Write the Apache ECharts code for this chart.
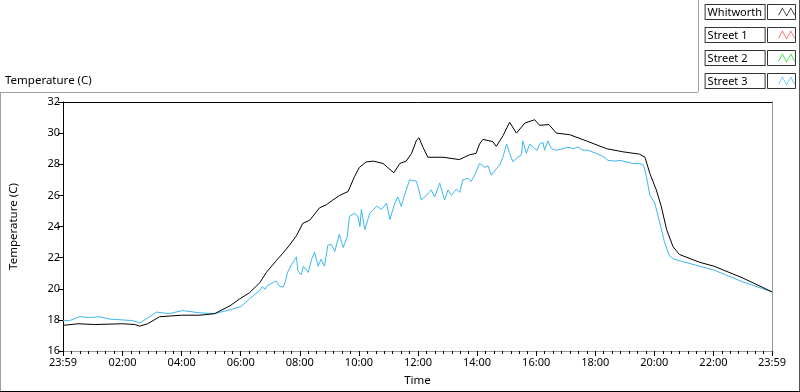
<!DOCTYPE html>
<html><head><meta charset="utf-8">
<script src="https://cdn.jsdelivr.net/npm/echarts@6/dist/echarts.min.js"></script>
<style>html,body{margin:0;padding:0;background:#fff}#c{width:800px;height:392px}</style>
</head><body><div id="c"></div>
<script>
// ---- data (times in minutes from midnight; -1 = 23:59 of previous day) ----
const seriesNames = ['Whitworth', 'Street 1', 'Street 2', 'Street 3'];
const seriesColors = ['#000000', '#ff3b3b', '#10d010', '#3cb8f0'];
const xTickMinutes = [-1, 120, 240, 360, 480, 600, 720, 840, 960, 1080, 1200, 1320, 1439];
const xTickLabels = ['23:59', '02:00', '04:00', '06:00', '08:00', '10:00', '12:00', '14:00', '16:00', '18:00', '20:00', '22:00', '23:59'];

const whitworthTime = [-1, 30, 63, 120, 145, 155, 171, 195, 240, 277, 307, 338, 358, 378, 399, 412, 432, 446, 459, 473, 486, 500, 520, 534, 547, 561, 578, 591, 601, 615, 629, 649, 671, 683, 696, 707, 717, 722, 730, 740, 771, 804, 824, 838, 845, 852, 872, 879, 893, 906, 920, 937, 957, 967, 986, 1001, 1028, 1062, 1103, 1136, 1170, 1181, 1191, 1204, 1214, 1225, 1238, 1251, 1292, 1321, 1379, 1439];
const whitworthTemp = [17.65, 17.75, 17.7, 17.75, 17.7, 17.6, 17.75, 18.2, 18.3, 18.3, 18.4, 18.9, 19.35, 19.75, 20.4, 21.05, 21.8, 22.3, 22.8, 23.4, 24.2, 24.4, 25.2, 25.4, 25.7, 26.0, 26.25, 27.2, 27.8, 28.15, 28.2, 28.05, 27.45, 28.05, 28.2, 28.7, 29.55, 29.7, 29.1, 28.45, 28.45, 28.3, 28.6, 28.7, 29.3, 29.6, 29.45, 29.15, 29.85, 30.7, 30.0, 30.65, 30.86, 30.5, 30.55, 30.0, 29.9, 29.5, 29.0, 28.8, 28.65, 28.45, 27.4, 26.35, 25.3, 23.8, 22.7, 22.2, 21.7, 21.45, 20.7, 19.8];

const street1Time = [];
const street1Temp = [];
const street2Time = [];
const street2Temp = [];

const street3Time = [-1, 12, 33, 53, 74, 94, 120, 141, 155, 175, 189, 215, 242, 277, 307, 338, 360, 378, 399, 404, 409, 414, 432, 439, 446, 450, 455, 463, 473, 476, 483, 487, 497, 504, 510, 517, 523, 530, 537, 544, 551, 560, 568, 576, 581, 591, 598, 602, 605, 612, 622, 636, 646, 656, 663, 673, 679, 686, 693, 703, 717, 720, 727, 737, 747, 754, 764, 774, 781, 788, 798, 805, 811, 822, 828, 835, 845, 856, 862, 869, 879, 886, 893, 900, 906, 913, 920, 930, 933, 940, 947, 950, 957, 962, 967, 974, 977, 984, 991, 1001, 1015, 1025, 1035, 1045, 1055, 1065, 1082, 1096, 1106, 1120, 1130, 1143, 1157, 1170, 1178, 1184, 1191, 1201, 1211, 1221, 1231, 1240, 1251, 1292, 1321, 1379, 1439];
const street3Temp = [17.95, 17.95, 18.2, 18.15, 18.2, 18.05, 18.0, 17.95, 17.8, 18.2, 18.5, 18.4, 18.6, 18.45, 18.4, 18.65, 18.85, 19.35, 19.9, 20.15, 19.95, 20.2, 20.5, 20.15, 20.1, 20.4, 21.05, 21.55, 22.05, 21.15, 20.9, 21.45, 21.05, 21.9, 22.35, 21.45, 21.9, 21.45, 22.8, 22.85, 22.4, 23.5, 22.65, 23.3, 24.65, 24.85, 24.65, 24.0, 25.1, 23.8, 24.85, 25.3, 25.1, 25.5, 24.45, 25.5, 25.9, 25.3, 26.05, 27.0, 26.9, 26.8, 25.7, 26.0, 26.35, 25.9, 26.8, 25.7, 26.35, 26.0, 26.4, 26.2, 27.0, 27.1, 26.9, 27.3, 28.05, 27.8, 27.9, 27.3, 27.7, 27.95, 28.5, 29.3, 28.7, 28.15, 28.4, 28.6, 29.5, 28.7, 29.3, 29.4, 29.0, 28.9, 29.3, 29.4, 28.9, 29.5, 29.0, 28.9, 29.0, 29.1, 29.0, 29.1, 28.9, 28.9, 28.7, 28.5, 28.25, 28.2, 28.25, 28.15, 28.05, 28.05, 27.95, 27.2, 26.0, 25.5, 24.25, 22.95, 22.1, 21.9, 21.8, 21.45, 21.2, 20.45, 19.8];

// ---- helpers ----
const zip = (t, v) => t.map((x, i) => [x, v[i]]);
const times = [whitworthTime, street1Time, street2Time, street3Time];
const temps = [whitworthTemp, street1Temp, street2Temp, street3Temp];
const minorTicks = [];
for (let k = 0; k < xTickMinutes.length - 1; k++) {
  const s = xTickMinutes[k], e = xTickMinutes[k + 1];
  for (let j = 1; j < 7; j++) minorTicks.push(s + (e - s) * j / 7);
}
const FONT = 'Noto Sans';
const chart = echarts.init(document.getElementById('c'), null, { renderer: 'canvas' });

const legendY0 = 4, legendStep = 23;
const frames = seriesNames.map((n, i) => ({
  type: 'rect', shape: { x: 767.5, y: legendY0 + legendStep * i + 0.5, width: 28, height: 15 },
  style: { fill: 'none', stroke: '#333', lineWidth: 1 }, z: 100
}));

chart.setOption({
  animation: false,
  backgroundColor: '#fff',
  title: {
    text: 'Temperature (C)', left: 5, top: 75, padding: [0, 0, 0, 0],
    textStyle: { fontFamily: FONT, fontSize: 11.5, fontWeight: 'normal', color: '#000' }
  },
  legend: {
    orient: 'vertical', right: 5, top: legendY0, align: 'right', padding: 0,
    itemWidth: 22, itemHeight: 9, itemGap: 7,
    icon: 'path://M0,10 L5.5,0 L11,10 L16.5,0 L22,10 L21,10 L16.5,1.8 L11,11.8 L5.5,1.8 L1,10 Z',
    data: seriesNames,
    selectedMode: false,
    formatter: n => '{n|' + n + '}{s| }',
    textStyle: {
      fontFamily: FONT, fontSize: 11, color: '#000',
      rich: {
        n: { width: 55, height: 13, align: 'left', padding: [1, 2, 0, 2], borderColor: '#333', borderWidth: 1, backgroundColor: '#fff', fontFamily: FONT, fontSize: 11 },
        s: { width: 6, fontSize: 11 }
      }
    }
  },
  grid: { left: 63, top: 102, width: 709, height: 251, show: false },
  xAxis: [
    {
      type: 'value', min: -1, max: 1439, position: 'bottom',
      name: 'Time', nameLocation: 'middle', nameGap: 24,
      nameTextStyle: { fontFamily: FONT, fontSize: 11.5, color: '#000' },
      axisLine: { show: true, onZero: false, lineStyle: { color: '#9a9a9a', width: 1 } },
      axisTick: { show: true, length: 5, customValues: xTickMinutes, lineStyle: { color: '#000' } },
      axisLabel: {
        customValues: xTickMinutes, margin: 6,
        formatter: v => xTickLabels[xTickMinutes.indexOf(v)] || '',
        fontFamily: FONT, fontSize: 11, color: '#000'
      },
      splitLine: { show: false }
    },
    {
      type: 'value', min: -1, max: 1439, position: 'bottom',
      axisLine: { show: false },
      axisTick: { show: true, length: 3, customValues: minorTicks, lineStyle: { color: '#000' } },
      axisLabel: { show: false },
      splitLine: { show: false }
    },
    {
      type: 'value', min: -1, max: 1439, position: 'top',
      axisLine: { show: true, onZero: false, lineStyle: { color: '#000' } },
      axisTick: { show: false }, axisLabel: { show: false }, splitLine: { show: false }
    }
  ],
  yAxis: [
    {
      type: 'value', min: 16, max: 32, interval: 2, position: 'left',
      name: 'Temperature (C)', nameLocation: 'middle', nameGap: 43,
      nameTextStyle: { fontFamily: FONT, fontSize: 11.5, color: '#000' },
      axisLine: { show: true, onZero: false, lineStyle: { color: '#000' } },
      axisTick: { show: true, length: 5, lineStyle: { color: '#000' } },
      axisLabel: { margin: 3, fontFamily: FONT, fontSize: 11, color: '#000' },
      splitLine: { show: false }
    },
    {
      type: 'value', min: 16, max: 32, position: 'right',
      axisLine: { show: true, onZero: false, lineStyle: { color: '#9a9a9a' } },
      axisTick: { show: false }, axisLabel: { show: false }, splitLine: { show: false }
    }
  ],
  graphic: [
    { type: 'line', shape: { x1: 0, y1: 92.5, x2: 698, y2: 92.5 }, style: { stroke: '#a0a0a0', lineWidth: 1 } },
    { type: 'line', shape: { x1: 0.5, y1: 92, x2: 0.5, y2: 391 }, style: { stroke: '#a0a0a0', lineWidth: 1 } },
    { type: 'line', shape: { x1: 698.5, y1: 0, x2: 698.5, y2: 92 }, style: { stroke: '#a0a0a0', lineWidth: 1 } },
    { type: 'line', shape: { x1: 799.5, y1: 0, x2: 799.5, y2: 392 }, style: { stroke: '#555', lineWidth: 1 } },
    { type: 'line', shape: { x1: 0, y1: 391.5, x2: 800, y2: 391.5 }, style: { stroke: '#000', lineWidth: 1 } },
    ...frames
  ],
  series: seriesNames.map((n, i) => ({
    name: n, type: 'line', xAxisIndex: 0, yAxisIndex: 0,
    data: zip(times[i], temps[i]),
    showSymbol: false, symbol: 'none',
    color: seriesColors[i],
    lineStyle: { color: seriesColors[i], width: 1 },
    z: i === 0 ? 3 : 2
  }))
});
</script>
</body></html>
